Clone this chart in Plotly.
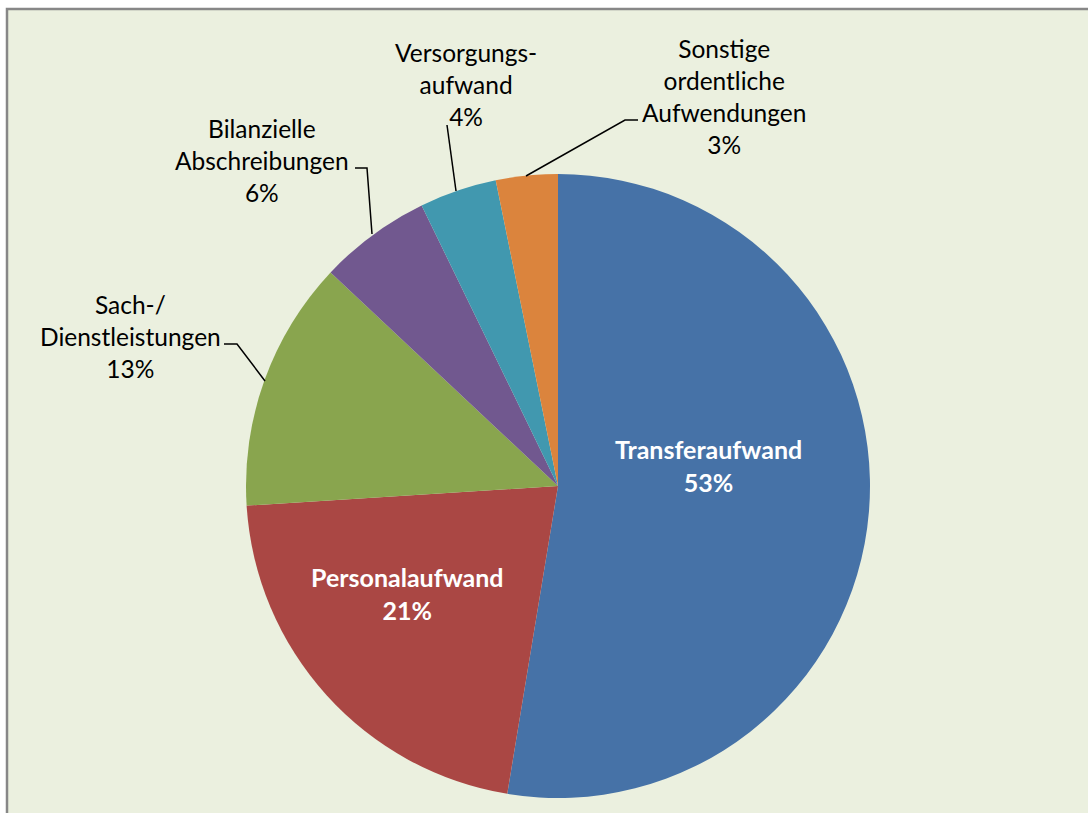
import plotly.graph_objects as go

W, H = 1088, 813

labels = ["Transferaufwand", "Personalaufwand", "Sach-/<br>Dienstleistungen",
          "Bilanzielle<br>Abschreibungen", "Versorgungs-<br>aufwand",
          "Sonstige<br>ordentliche<br>Aufwendungen"]
values = [52.6, 21.4, 13.0, 5.8, 4.0, 3.2]
colors = ["#4672A7", "#AA4744", "#89A54E", "#71588F", "#4198AF", "#DB843D"]

# label placement (pixel centres) and leader lines (pixel paths)
label_pos = [(708, 465), (407, 593), (130, 337), (262, 160), (466, 84), (724, 97)]
inside = [True, True, False, False, False, False]
leaders = [None, None,
           [(224, 344), (237, 344), (265, 381)],
           [(355, 168), (367, 168), (372, 234)],
           [(447, 125), (456, 191)],
           [(638, 120), (625, 120), (526, 176)]]

def px(x):
    return x / W

def py(y):
    return 1 - y / H

total = sum(values)
pcts = [round(v / total * 100) for v in values]

cx, cy, r = 558, 486, 312

fig = go.Figure(go.Pie(
    labels=labels, values=values, sort=False, direction="clockwise", rotation=0,
    marker=dict(colors=colors, line=dict(width=0)),
    textinfo="none", hoverinfo="label+percent", showlegend=False,
    domain=dict(x=[px(cx - r), px(cx + r)], y=[py(cy + r), py(cy - r)]),
))

FONT = "Lato, 'Open Sans', sans-serif"
annotations = []
for lab, p, (x, y), ins in zip(labels, pcts, label_pos, inside):
    if ins:
        txt = f"<b>{lab}<br>{p}%</b>"
        col = "white"
        size = 25
    else:
        txt = f"{lab}<br>{p}%"
        col = "black"
        size = 24.5
    annotations.append(dict(x=px(x), y=py(y), xref="paper", yref="paper",
                            text=txt, showarrow=False, xanchor="center", yanchor="middle",
                            font=dict(family=FONT, size=size, color=col)))

shapes = [dict(type="rect", xref="paper", yref="paper", layer="below",
               x0=px(7), x1=px(W + 40), y0=py(H + 40), y1=py(9),
               fillcolor="#EBF0DF", line=dict(color="#878787", width=2.5))]
for L in leaders:
    if L is None:
        continue
    path = "M " + " L ".join(f"{px(x)},{py(y)}" for x, y in L)
    shapes.append(dict(type="path", xref="paper", yref="paper", path=path,
                       line=dict(color="black", width=1.5)))

fig.update_layout(width=W, height=H, margin=dict(l=0, r=0, t=0, b=0),
                  paper_bgcolor="white", plot_bgcolor="white",
                  annotations=annotations, shapes=shapes)

fig.write_html("out.html", config={"displayModeBar": False},
               post_script="document.body.style.margin='0';document.body.style.overflow='hidden';")
